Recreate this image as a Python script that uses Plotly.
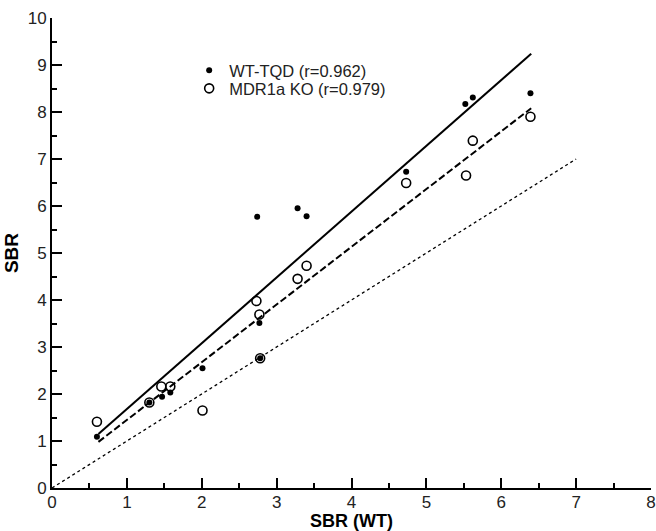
import numpy as np
import plotly.graph_objects as go

# SBR measured in wild-type animals (x) vs. the two groups (y)
wt_tqd_x = [0.60, 1.30, 1.47, 1.58, 2.01, 2.74, 2.77, 2.78, 3.28, 3.40, 4.73, 5.52, 5.62, 6.39]
wt_tqd_y = [1.09, 1.82, 1.94, 2.03, 2.55, 5.77, 3.51, 2.76, 5.95, 5.78, 6.73, 8.17, 8.31, 8.40]

ko_x = [0.60, 1.30, 1.46, 1.58, 2.01, 2.73, 2.77, 2.78, 3.28, 3.40, 4.73, 5.53, 5.62, 6.39]
ko_y = [1.41, 1.82, 2.16, 2.16, 1.65, 3.98, 3.69, 2.76, 4.45, 4.73, 6.49, 6.65, 7.39, 7.90]

# regression lines (slope, intercept) over the data range
wt_fit = (1.40, 0.28)
ko_fit = (1.228, 0.22)
fit_range = [0.62, 6.40]
identity_range = [0, 7]

x_ticks = [0, 1, 2, 3, 4, 5, 6, 7, 8]
y_ticks = [0, 1, 2, 3, 4, 5, 6, 7, 8, 9, 10]

FONT = "Liberation Sans, Arial, sans-serif"
fx = np.array(fit_range)

fig = go.Figure()

fig.add_trace(go.Scatter(
    x=identity_range, y=identity_range, mode="lines",
    line=dict(color="black", width=1.3, dash="dot"),
    showlegend=False, hoverinfo="skip"))
fig.add_trace(go.Scatter(
    x=fx, y=wt_fit[0] * fx + wt_fit[1], mode="lines",
    line=dict(color="black", width=2),
    showlegend=False, hoverinfo="skip"))
fig.add_trace(go.Scatter(
    x=fx, y=ko_fit[0] * fx + ko_fit[1], mode="lines",
    line=dict(color="black", width=2, dash="7px,3px"),
    showlegend=False, hoverinfo="skip"))

fig.add_trace(go.Scatter(
    x=wt_tqd_x, y=wt_tqd_y, mode="markers", name="WT-TQD (r=0.962)",
    marker=dict(symbol="circle", size=6, color="black"), legend="legend"))
fig.add_trace(go.Scatter(
    x=ko_x, y=ko_y, mode="markers", name="MDR1a KO (r=0.979)",
    marker=dict(symbol="circle-open", size=9, color="black",
                line=dict(width=1.6, color="black")), legend="legend2"))

axis_common = dict(
    showgrid=False, zeroline=False, showline=True, automargin=False,
    linecolor="black", linewidth=2, ticklabeloverflow="allow",
    ticks="inside", ticklen=10, tickwidth=2, tickcolor="black",
    tickfont=dict(family=FONT, size=17, color="#222"),
    minor=dict(ticks="inside", ticklen=5, tickwidth=1.5, tickcolor="black", dtick=0.5),
)

legend_common = dict(
    xanchor="left", yanchor="top", bgcolor="rgba(0,0,0,0)", borderwidth=0,
    font=dict(family=FONT, size=16.5, color="#222"), itemwidth=30,
)

fig.update_layout(
    width=656, height=531,
    margin=dict(l=52, r=5, t=18, b=43, autoexpand=False),
    paper_bgcolor="white", plot_bgcolor="white",
    font=dict(family=FONT, color="black"),
    xaxis=dict(
        range=[0, 8], tickvals=x_ticks, ticktext=[str(v) for v in x_ticks],
        ticklabelstandoff=-2,
        title=dict(text="<b>SBR (WT)</b>", font=dict(size=18), standoff=3),
        **axis_common),
    yaxis=dict(
        range=[0, 10], tickvals=y_ticks, ticktext=[str(v) for v in y_ticks],
        title=dict(text="<b>SBR</b>", font=dict(size=19), standoff=4),
        **axis_common),
    legend=dict(x=0.229, y=0.9255, **legend_common),
    legend2=dict(x=0.229, y=0.887, **legend_common),
)

fig.write_html("out.html")
